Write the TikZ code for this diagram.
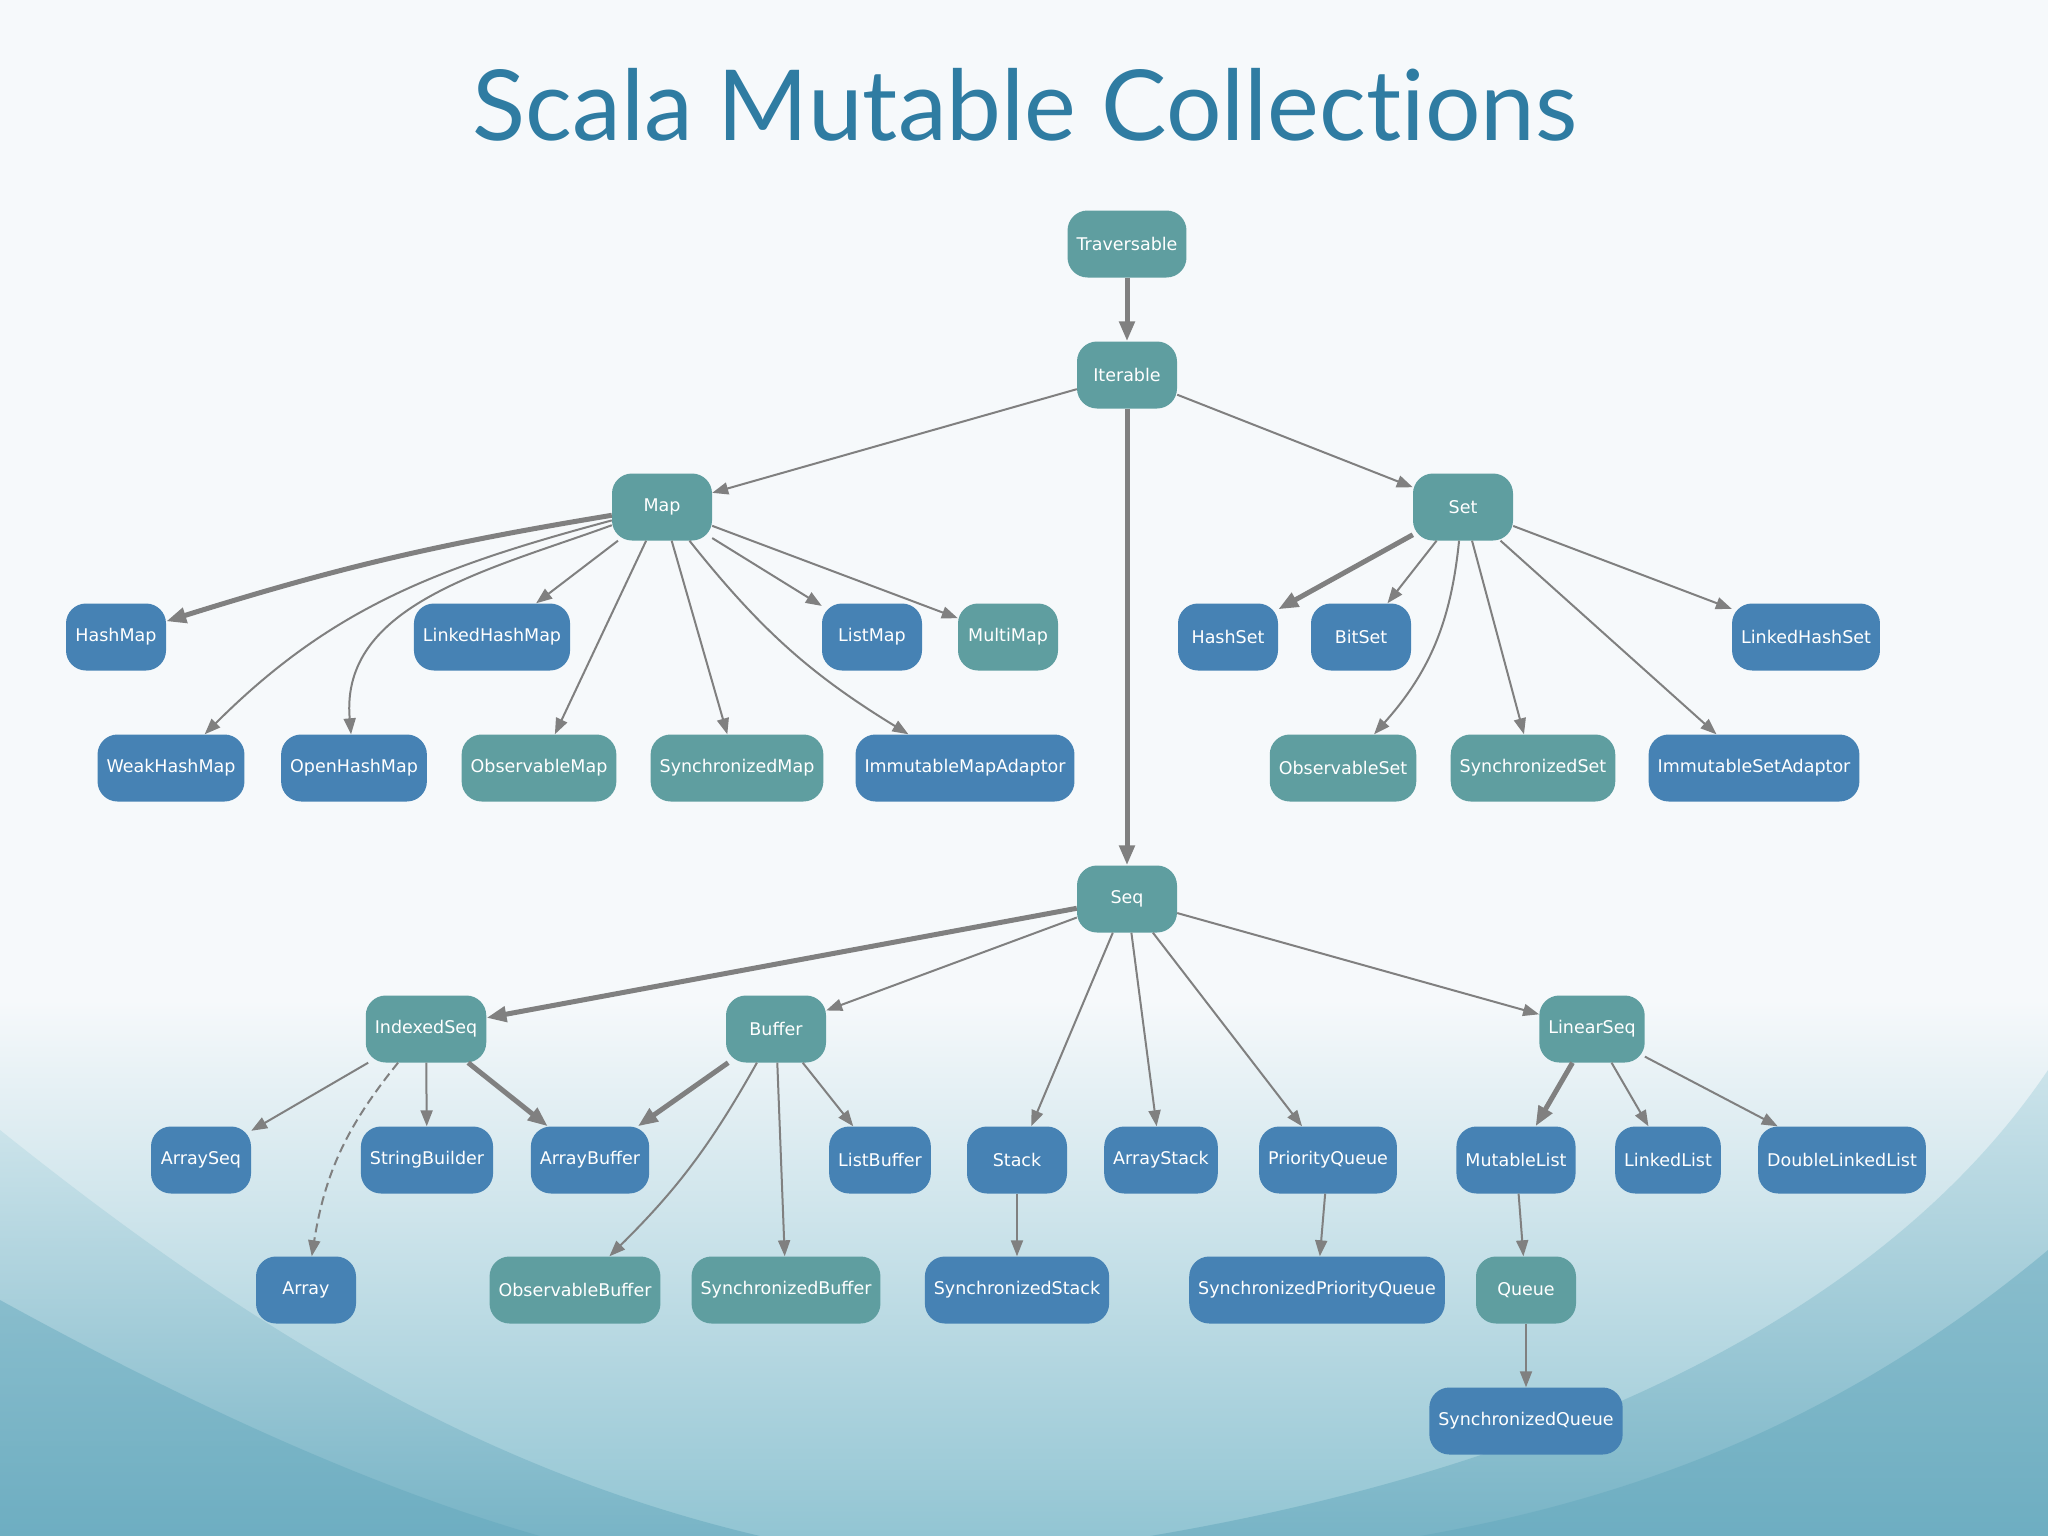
\documentclass[tikz,border=0pt]{standalone}
\usepackage{fontspec}
\usetikzlibrary{arrows.meta}
\newfontfamily\nodefont{DejaVu Sans}
\newfontfamily\titlefont[Ligatures={NoCommon}]{Lato}
\definecolor{tealc}{HTML}{5F9EA0}
\definecolor{bluec}{HTML}{4682B4}
\definecolor{edgec}{HTML}{808080}
\definecolor{titlec}{HTML}{2F7CA2}
\definecolor{bgtop}{HTML}{F6F9FB}
\definecolor{bgbot}{HTML}{92C5D3}
\definecolor{wingtop}{HTML}{CBE3EA}
\definecolor{wingbot}{HTML}{78B4C6}
\definecolor{wingdark}{HTML}{62A7BC}
\tikzset{
  nd/.style={rounded corners=20pt, minimum height=67pt, minimum width=100pt,
    inner xsep=9pt, text=white, font=\nodefont\fontsize{17.5}{20}\selectfont},
  tl/.style={nd, fill=tealc},
  bl/.style={nd, fill=bluec},
  ed/.style={draw=edgec, line width=2pt, -{Triangle[length=16pt,width=12pt]}},
  thk/.style={draw=edgec, line width=5pt, -{Triangle[length=20pt,width=15pt]}},
  dsh/.style={ed, dash pattern=on 9pt off 5pt},
}
\begin{document}
\begin{tikzpicture}[x=1pt,y=1pt]
\useasboundingbox (0,0) rectangle (2048,-1536);
% background
\fill[bgtop] (0,0) rectangle (2048,-1000);
\shade[top color=bgtop, bottom color=bgbot] (0,-1000) rectangle (2048,-1536);
\shade[top color=wingtop, bottom color=wingbot] (0,-1130) .. controls (250,-1330) and (480,-1470) .. (760,-1536) -- (0,-1536) -- cycle;
\shade[top color=wingtop, bottom color=wingbot] (2048,-1070) .. controls (1900,-1290) and (1600,-1460) .. (1150,-1536) -- (2048,-1536) -- cycle;
\fill[wingdark, opacity=0.45] (0,-1300) .. controls (200,-1410) and (380,-1490) .. (540,-1536) -- (0,-1536) -- cycle;
\fill[wingdark, opacity=0.45] (2048,-1250) .. controls (1850,-1415) and (1650,-1495) .. (1420,-1536) -- (2048,-1536) -- cycle;
% title
\node[text=titlec, font=\titlefont\fontsize{98}{110}\selectfont, anchor=base] (title) at (1025,-141) {Scala Mutable Collections};
% nodes
\node[tl] (Traversable) at (1127,-244) {Traversable};
\node[tl] (Iterable) at (1127,-375) {Iterable};
\node[tl] (Map) at (662,-507) {Map};
\node[tl] (Set) at (1463,-507) {Set};
\node[bl] (HashMap) at (116,-637) {HashMap};
\node[bl] (LinkedHashMap) at (492,-637) {LinkedHashMap};
\node[bl] (ListMap) at (872,-637) {ListMap};
\node[tl] (MultiMap) at (1008,-637) {MultiMap};
\node[bl] (HashSet) at (1228,-637) {HashSet};
\node[bl] (BitSet) at (1361,-637) {BitSet};
\node[bl] (LinkedHashSet) at (1806,-637) {LinkedHashSet};
\node[bl] (WeakHashMap) at (171,-768) {WeakHashMap};
\node[bl] (OpenHashMap) at (354,-768) {OpenHashMap};
\node[tl] (ObservableMap) at (539,-768) {ObservableMap};
\node[tl] (SynchronizedMap) at (737,-768) {SynchronizedMap};
\node[bl] (ImmutableMapAdaptor) at (965,-768) {ImmutableMapAdaptor};
\node[tl] (ObservableSet) at (1343,-768) {ObservableSet};
\node[tl] (SynchronizedSet) at (1533,-768) {SynchronizedSet};
\node[bl] (ImmutableSetAdaptor) at (1754,-768) {ImmutableSetAdaptor};
\node[tl] (Seq) at (1127,-899) {Seq};
\node[tl] (IndexedSeq) at (426,-1029) {IndexedSeq};
\node[tl] (Buffer) at (776,-1029) {Buffer};
\node[tl] (LinearSeq) at (1592,-1029) {LinearSeq};
\node[bl] (ArraySeq) at (201,-1160) {ArraySeq};
\node[bl] (StringBuilder) at (427,-1160) {StringBuilder};
\node[bl] (ArrayBuffer) at (590,-1160) {ArrayBuffer};
\node[bl] (ListBuffer) at (880,-1160) {ListBuffer};
\node[bl] (Stack) at (1017,-1160) {Stack};
\node[bl] (ArrayStack) at (1161,-1160) {ArrayStack};
\node[bl] (PriorityQueue) at (1328,-1160) {PriorityQueue};
\node[bl] (MutableList) at (1516,-1160) {MutableList};
\node[bl] (LinkedList) at (1668,-1160) {LinkedList};
\node[bl] (DoubleLinkedList) at (1842,-1160) {DoubleLinkedList};
\node[bl] (Array) at (306,-1290) {Array};
\node[tl] (ObservableBuffer) at (575,-1290) {ObservableBuffer};
\node[tl] (SynchronizedBuffer) at (786,-1290) {SynchronizedBuffer};
\node[bl] (SynchronizedStack) at (1017,-1290) {SynchronizedStack};
\node[bl] (SynchronizedPriorityQueue) at (1317,-1290) {SynchronizedPriorityQueue};
\node[tl] (Queue) at (1526,-1290) {Queue};
\node[bl] (SynchronizedQueue) at (1526,-1421) {SynchronizedQueue};
% edges
\draw[thk] (Traversable) -- (Iterable);
\draw[thk] (Iterable) -- (Seq);
\draw[ed] (Iterable) -- (Map);
\draw[ed] (Iterable) -- (Set);
\draw[thk] (Map) to[bend right=4] (HashMap);
\draw[ed] (Map) to[out=195, in=45] (WeakHashMap);
\draw[ed] (Map) to[out=200, in=95] (OpenHashMap);
\draw[ed] (Map) -- (LinkedHashMap);
\draw[ed] (Map) -- (ObservableMap);
\draw[ed] (Map) -- (SynchronizedMap);
\draw[ed] (Map) to[bend right=10] (ImmutableMapAdaptor);
\draw[ed] (Map) -- (ListMap);
\draw[ed] (Map) -- (MultiMap);
\draw[thk] (Set) -- (HashSet);
\draw[ed] (Set) -- (BitSet);
\draw[ed] (Set) to[bend left=18] (ObservableSet);
\draw[ed] (Set) -- (SynchronizedSet);
\draw[ed] (Set) -- (ImmutableSetAdaptor);
\draw[ed] (Set) -- (LinkedHashSet);
\draw[thk] (Seq) -- (IndexedSeq);
\draw[ed] (Seq) -- (Buffer);
\draw[ed] (Seq) -- (Stack);
\draw[ed] (Seq) -- (ArrayStack);
\draw[ed] (Seq) -- (PriorityQueue);
\draw[ed] (Seq) -- (LinearSeq);
\draw[ed] (IndexedSeq) -- (ArraySeq);
\draw[dsh] (IndexedSeq) to[bend right=15] (Array);
\draw[ed] (IndexedSeq) -- (StringBuilder);
\draw[thk] (IndexedSeq) -- (ArrayBuffer);
\draw[thk] (Buffer) -- (ArrayBuffer);
\draw[ed] (Buffer) to[bend left=8] (ObservableBuffer);
\draw[ed] (Buffer) -- (SynchronizedBuffer);
\draw[ed] (Buffer) -- (ListBuffer);
\draw[ed] (Stack) -- (SynchronizedStack);
\draw[ed] (PriorityQueue) -- (SynchronizedPriorityQueue);
\draw[thk] (LinearSeq) -- (MutableList);
\draw[ed] (LinearSeq) -- (LinkedList);
\draw[ed] (LinearSeq) -- (DoubleLinkedList);
\draw[ed] (MutableList) -- (Queue);
\draw[ed] (Queue) -- (SynchronizedQueue);
\end{tikzpicture}
\end{document}
